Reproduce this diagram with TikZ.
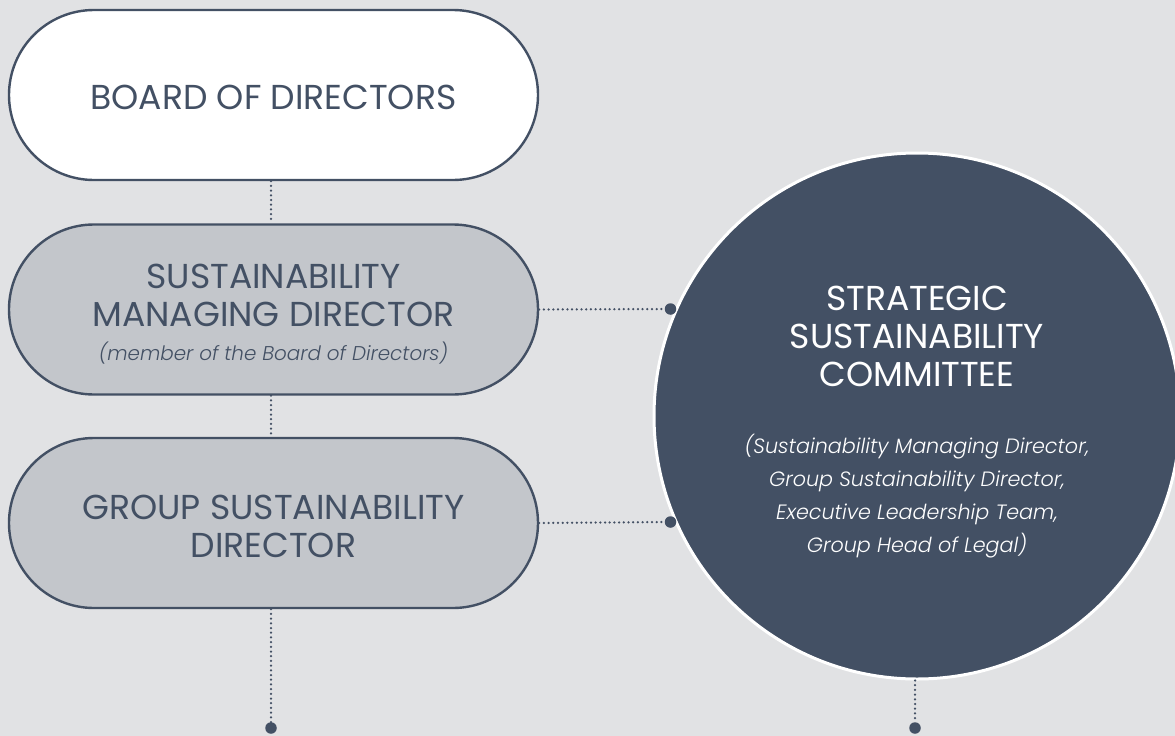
\documentclass[tikz,border=0pt]{standalone}
\usepackage{fontspec}
\setmainfont{Poppins}
\newfontfamily\lightit{Poppins Light Italic}
\newcommand\notefont{\lightit\fontsize{20.7}{33}\selectfont}
\newcommand\smallnote{\lightit\fontsize{19.9}{30}\selectfont}
\usetikzlibrary{calc}
\definecolor{slate}{HTML}{435064}
\definecolor{paper}{HTML}{E1E2E4}
\definecolor{mist}{HTML}{C3C6CB}
\tikzset{
  pill/.style={draw=slate, line width=2.4pt, rounded corners=85pt,
    minimum width=529pt, minimum height=170pt, inner sep=0pt},
  title/.style={align=center, inner sep=0pt,
    font=\fontsize{34.6}{38}\selectfont},
  link/.style={draw=slate, line width=2.5pt, line cap=round,
    dash pattern=on 0pt off 4.7pt},
  enddot/.style={circle, fill=slate, inner sep=0pt, minimum size=11.5pt}
}
\begin{document}
\begin{tikzpicture}[x=1pt,y=-1pt]
  \fill[paper] (0,0) rectangle (1175,736);
  \useasboundingbox (0,0) rectangle (1175,736);

  % committee disc, running off the right edge
  \begin{scope}
    \clip (0,0) rectangle (1175,736);
    \node[circle, fill=slate, draw=white, line width=3pt,
      minimum size=526pt, inner sep=0pt] (ssc) at (917,416) {};
  \end{scope}
  \node[title, text=white] (sscText) at (917,422.5)
    {STRATEGIC\\SUSTAINABILITY\\COMMITTEE\\[29pt]
     \notefont (Sustainability Managing Director,\\[-5pt]
     \notefont Group Sustainability Director,\\[-5pt]
     \notefont Executive Leadership Team,\\[-5pt]
     \notefont Group Head of Legal)};

  % reporting line on the left
  \node[pill, fill=white] (bod) at (273.5,95) {};
  \node[pill, fill=mist] (smd) at (273.5,309.5) {};
  \node[pill, fill=mist] (gsd) at (273.5,523) {};

  \node[title, text=slate] (bodText) at (273.5,97) {BOARD OF DIRECTORS};
  \node[title, text=slate] (smdText) at (273.5,314.5)
    {SUSTAINABILITY\\MANAGING DIRECTOR\\[-4pt]
     \smallnote (member of the Board of Directors)};
  \node[title, text=slate] (gsdText) at (273.5,526)
    {GROUP SUSTAINABILITY\\DIRECTOR};

  \node[enddot] (dotA) at (670.5,309) {};
  \node[enddot] (dotB) at (670.5,522) {};
  \node[enddot] (dotL) at (271,728) {};
  \node[enddot] (dotR) at (915,728) {};

  \draw[link] (bod.south -| dotL) -- (smd.north -| dotL);
  \draw[link] (smd.south -| dotL) -- (gsd.north -| dotL);
  \draw[link] (gsd.south -| dotL) -- (dotL);
  \draw[link] (smd.east) -- (dotA);
  \draw[link] (gsd.east) -- (dotB);
  \draw[link] (ssc.south -| dotR) -- (dotR);
\end{tikzpicture}
\end{document}
